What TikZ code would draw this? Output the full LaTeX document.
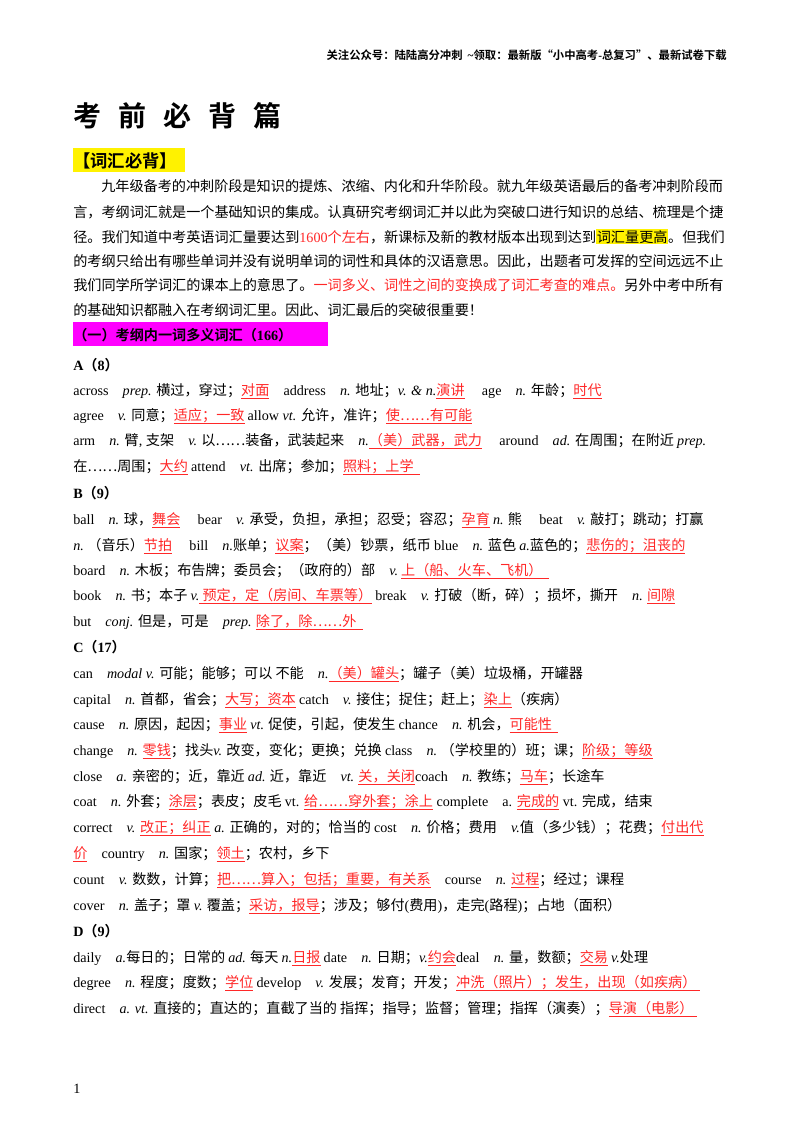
\documentclass[tikz,border=0pt]{standalone}
\usepackage{fontspec}
\setmainfont{Liberation Serif}
\newfontfamily\latfam{Liberation Serif}
\newfontfamily\cjkfam{Noto Sans CJK SC}[BoldFont={Noto Sans CJK SC Bold}]
\newXeTeXintercharclass\cjkc
\newcount\ccc
\ccc="2E80 \loop \XeTeXcharclass\ccc=\cjkc \advance\ccc 1 \ifnum\ccc<"A000 \repeat
\ccc="FF00 \loop \XeTeXcharclass\ccc=\cjkc \advance\ccc 1 \ifnum\ccc<"FFF0 \repeat
\XeTeXcharclass"2026=\cjkc \XeTeXcharclass"201C=\cjkc \XeTeXcharclass"201D=\cjkc
\XeTeXcharclass"3001=\cjkc \XeTeXcharclass"3002=\cjkc
\XeTeXinterchartoks 0 \cjkc = {\cjkfam}
\XeTeXinterchartoks 4095 \cjkc = {\cjkfam}
\XeTeXinterchartoks \cjkc 0 = {\latfam}
\XeTeXinterchartoks 4095 0 = {\latfam}
\XeTeXinterchartokenstate=1
\definecolor{hlmag}{RGB}{255,0,255}
\definecolor{rtx}{RGB}{255,40,40}
\newcommand\rul[1]{\textcolor{rtx}{\setbox0\hbox{#1}\rlap{\rule[-2.6pt]{\wd0}{0.5pt}}\box0}}
\newcommand\rtx[1]{\textcolor{rtx}{#1}}
\newcommand\yhl[1]{{\fboxsep=0.5pt\colorbox{yellow}{#1}}}
\newcommand\I[1]{\textit{#1}}
\tikzset{ln/.style={anchor=base west, inner sep=0, font=\fontsize{10.6}{12}\selectfont},
 hd/.style={anchor=base west, inner sep=0, font=\fontsize{10.6}{12}\selectfont\bfseries}}
\begin{document}
\begin{tikzpicture}[x=0.75pt,y=-0.75pt]
\useasboundingbox[fill=white] (0,0) rectangle (800,1132);
\node[anchor=base east,inner sep=0,font=\fontsize{8.5}{10}\selectfont\bfseries] (hdr) at (727,59) {关注公众号：陆陆高分冲刺\ \ \textasciitilde 领取：最新版“小中高考-总复习”、最新试卷下载};
\foreach \c [count=\i] in {考,前,必,背,篇} {
 \node[anchor=base west,inner sep=0,font=\fontsize{21}{24}\selectfont\bfseries] (t\i) at ({73+45*(\i-1)},126) {\c};
}
\fill[yellow] (73,148) rectangle (185,172);
\node[anchor=base west,inner sep=0,font=\fontsize{13}{15}\selectfont\bfseries] (s1) at (73,167) {【词汇必背】};
% paragraph
\node[ln] (p1) at (73,191) {\makebox[490.5pt][s]{\hspace{21pt}九年级备考的冲刺阶段是知识的提炼、浓缩、内化和升华阶段。就九年级英语最后的备考冲刺阶段而}};
\node[ln] (p2) at (73,217) {\makebox[490.5pt][s]{言，考纲词汇就是一个基础知识的集成。认真研究考纲词汇并以此为突破口进行知识的总结、梳理是个捷}};
\node[ln] (p3) at (73,242) {\makebox[490.5pt][s]{径。我们知道中考英语词汇量要达到\rtx{1600个左右}，新课标及新的教材版本出现到达到\yhl{词汇量更高}。但我们}};
\node[ln] (p4) at (73,266) {\makebox[490.5pt][s]{的考纲只给出有哪些单词并没有说明单词的词性和具体的汉语意思。因此，出题者可发挥的空间远远不止}};
\node[ln] (p5) at (73,290) {\makebox[490.5pt][s]{我们同学所学词汇的课本上的意思了。\rtx{一词多义、词性之间的变换成了词汇考查的难点。}另外中考中所有}};
\node[ln] (p6) at (73,315) {的基础知识都融入在考纲词汇里。因此、词汇最后的突破很重要！};
\fill[hlmag] (73,322) rectangle (328,346);
\node[hd] (s2) at (73,340) {（一）考纲内一词多义词汇（166）};
% A
\node[hd] (hA) at (73,370) {A（8）};
\node[ln] (a1) at (73,395) {across\quad\I{prep.} 横过，穿过；\rul{对面}\quad address\quad\I{n.} 地址；\I{v. \& n.}\rul{演讲}\quad\ age\quad\I{n.} 年龄；\rul{时代}};
\node[ln] (a2) at (73,420) {agree\quad\I{v.} 同意；\rul{适应；一致} allow \I{vt.} 允许，准许；\rul{使……有可能}};
\node[ln] (a3) at (73,445) {arm\quad\I{n.} 臂, 支架\quad\I{v.} 以……装备，武装起来\quad\I{n.}\rul{（美）武器，武力}\quad\ around\quad\I{ad.} 在周围；在附近 \I{prep.}};
\node[ln] (a4) at (73,471) {在……周围；\rul{大约} attend\quad\I{vt.} 出席；参加；\rul{照料；上学\ \ }};
% B
\node[hd] (hB) at (73,498) {B（9）};
\node[ln] (b1) at (73,524) {ball\quad\I{n.} 球，\rul{舞会}\quad\ bear\quad\I{v.} 承受，负担，承担；忍受；容忍；\rul{孕育} \I{n.} 熊\quad\ beat\quad\I{v.} 敲打；跳动；打赢};
\node[ln] (b2) at (73,550) {\I{n.}\ （音乐）\rul{节拍}\quad\ bill\quad\I{n.}账单；\rul{议案}；（美）钞票，纸币\ blue\quad\I{n.} 蓝色 \I{a.}蓝色的；\rul{悲伤的；沮丧的}};
\node[ln] (b3) at (73,575) {board\quad\I{n.} 木板；布告牌；委员会；（政府的）部\quad\I{v.}\ \rul{上（船、火车、飞机）\ \ }};
\node[ln] (b4) at (73,600) {book\quad\I{n.} 书；本子 \I{v.}\rul{\ 预定，定（房间、车票等）} break\quad\I{v.} 打破（断，碎）；损坏，撕开\quad\I{n.} \rul{间隙}};
\node[ln] (b5) at (73,626) {but\quad\I{conj.} 但是，可是\quad\I{prep.} \rul{除了，除……外\ \ }};
% C
\node[hd] (hC) at (73,652) {C（17）};
\node[ln] (c1) at (73,678) {can\quad\I{modal v.} 可能；能够；可以 不能\quad\I{n.}\rul{（美）罐头}；罐子（美）垃圾桶，开罐器};
\node[ln] (c2) at (73,704) {capital\quad\I{n.} 首都，省会；\rul{大写；资本} catch\quad\I{v.} 接住；捉住；赶上；\rul{染上}（疾病）};
\node[ln] (c3) at (73,729) {cause\quad\I{n.} 原因，起因；\rul{事业} \I{vt.} 促使，引起，使发生 chance\quad\I{n.} 机会，\rul{可能性\ \ }};
\node[ln] (c4) at (73,755) {change\quad\I{n.} \rul{零钱}；找头\I{v.} 改变，变化；更换；兑换 class\quad\I{n.}\ （学校里的）班；课；\rul{阶级；等级}};
\node[ln] (c5) at (73,781) {close\quad\I{a.} 亲密的；近，靠近 \I{ad.} 近，靠近\quad\I{vt.} \rul{关，关闭}coach\quad\I{n.} 教练；\rul{马车}；长途车};
\node[ln] (c6) at (73,806) {coat\quad\I{n.} 外套；\rul{涂层}；表皮；皮毛 vt. \rul{给……穿外套；涂上} complete\quad a. \rul{完成的} vt. 完成，结束};
\node[ln] (c7) at (73,832) {correct\quad\I{v.} \rul{改正；纠正} \I{a.} 正确的，对的；恰当的 cost\quad\I{n.} 价格；费用\quad\I{v.}值（多少钱）；花费；\rul{付出代}};
\node[ln] (c8) at (73,858) {\rul{价}\quad country\quad\I{n.} 国家；\rul{领土}；农村，乡下};
\node[ln] (c9) at (73,884) {count\quad\I{v.} 数数，计算；\rul{把……算入；包括；重要，有关系}\quad course\quad\I{n.} \rul{过程}；经过；课程};
\node[ln] (c10) at (73,910) {cover\quad\I{n.} 盖子；罩 \I{v.} 覆盖；\rul{采访，报导}；涉及；够付(费用)，走完(路程)；占地（面积）};
% D
\node[hd] (hD) at (73,936) {D（9）};
\node[ln] (d1) at (73,962) {daily\quad\I{a.}每日的；日常的 \I{ad.} 每天 \I{n.}\rul{日报} date\quad\I{n.} 日期；\I{v.}\rul{约会}deal\quad\I{n.} 量，数额；\rul{交易} \I{v.}处理};
\node[ln] (d2) at (73,987) {degree\quad\I{n.} 程度；度数；\rul{学位} develop\quad\I{v.} 发展；发育；开发；\rul{冲洗（照片）；发生，出现（如疾病）\ }};
\node[ln] (d3) at (73,1013) {direct\quad\I{a. vt.} 直接的；直达的；直截了当的 指挥；指导；监督；管理；指挥（演奏）；\rul{导演（电影）\ }};
\node[ln] (pg) at (73,1093) {1};
\end{tikzpicture}
\end{document}
